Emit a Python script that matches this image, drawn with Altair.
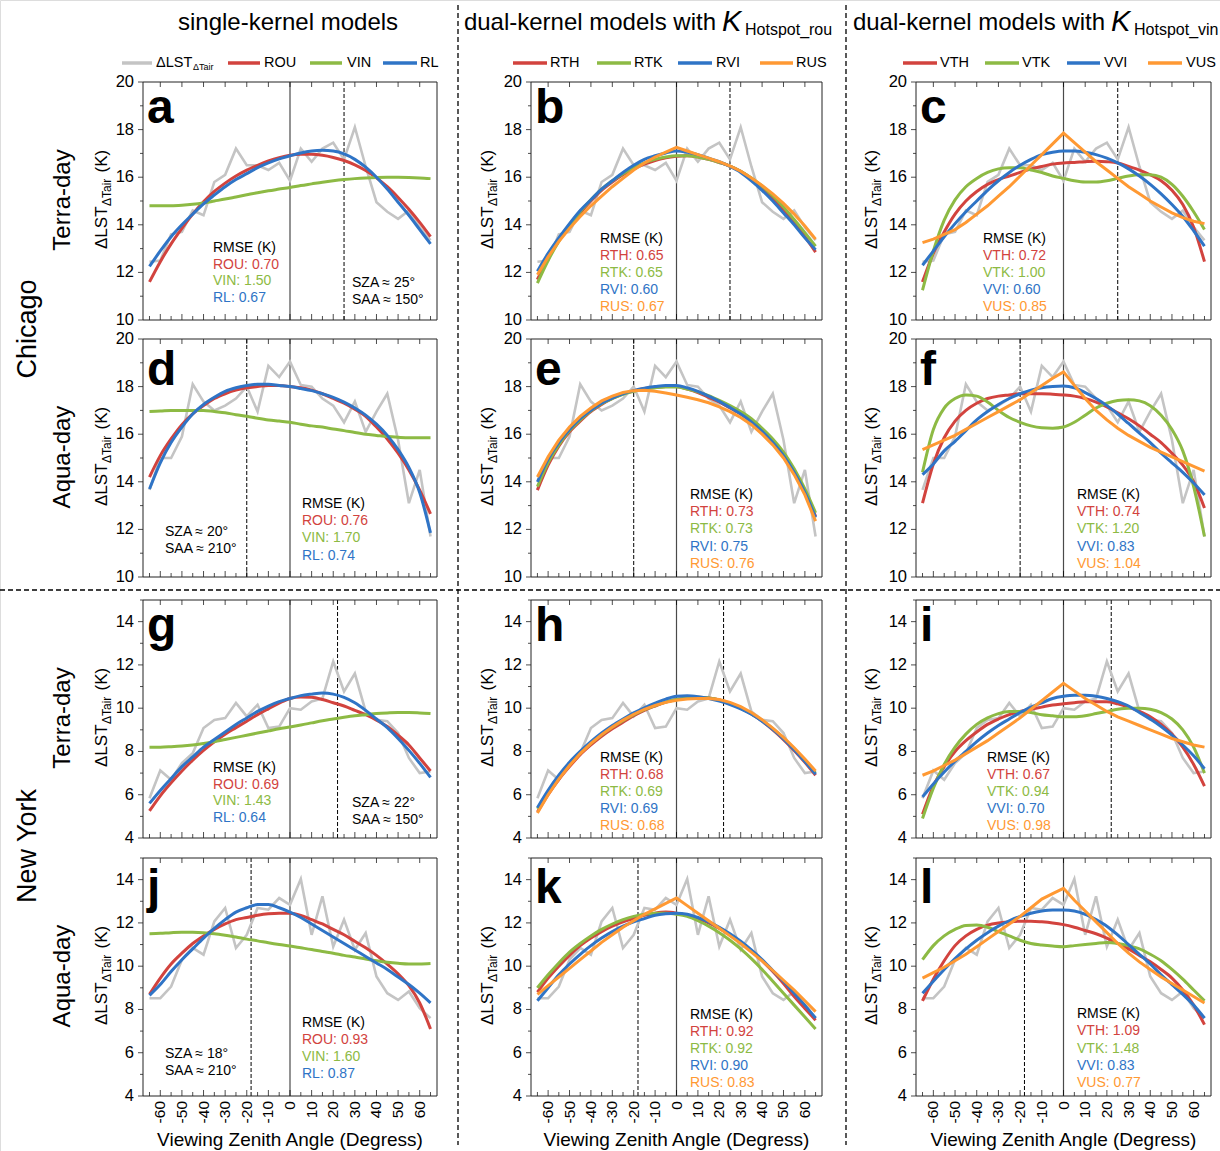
import altair as alt
import pandas as pd

# ------------------------------------------------------------------ data
VZA = list(range(-65, 70, 5))  # viewing zenith angles of the observations / fits

# observed ΔLST_ΔTair (grey lines)
OBS_CHI_TERRA = [12.45, 12.5, 13.6, 13.7, 14.6, 14.4, 15.8, 16.1, 17.2, 16.5, 16.5, 16.3, 16.6, 15.85,
                 17.2, 16.65, 17.2, 17.45, 16.75, 18.1, 16.45, 14.95, 14.55, 14.25, 14.6, 13.9, 13.35]
OBS_CHI_AQUA = [13.66, 15.0, 15.0, 15.9, 18.1, 17.37, 17.0, 17.2, 17.5, 18.0, 16.95, 18.87, 18.4, 19.05,
                18.07, 18.0, 17.5, 17.2, 16.5, 17.37, 16.1, 16.95, 17.7, 15.76, 13.1, 14.5, 11.7]
OBS_NY_TERRA = [5.84, 7.12, 6.69, 7.46, 7.92, 9.08, 9.46, 9.54, 10.24, 9.62, 10.16, 9.08, 9.15, 10.0,
                9.93, 10.31, 10.45, 12.16, 10.77, 11.6, 9.85, 9.46, 9.4, 8.85, 7.7, 7.0, 7.07]
OBS_NY_AQUA = [8.52, 8.52, 9.06, 10.3, 10.84, 10.53, 12.07, 12.69, 10.84, 11.45, 12.69, 12.61, 13.15, 12.84,
               14.03, 11.45, 13.23, 10.91, 12.15, 10.76, 11.53, 9.52, 8.75, 8.44, 8.83, 8.06, 7.6]

# panel a (Chicago Terra, single kernel)
A_ROU = [11.6, 12.45, 13.2, 13.85, 14.45, 14.97, 15.4, 15.75, 16.05, 16.3, 16.5, 16.68, 16.82, 16.92,
         16.96, 16.96, 16.92, 16.83, 16.7, 16.52, 16.28, 15.97, 15.6, 15.15, 14.65, 14.1, 13.5]
A_VIN = [14.8, 14.8, 14.8, 14.82, 14.86, 14.92, 15.0, 15.08, 15.17, 15.26, 15.35, 15.43, 15.5, 15.57,
         15.65, 15.72, 15.79, 15.85, 15.9, 15.94, 15.97, 15.99, 16.0, 16.0, 15.99, 15.97, 15.94]
A_RL = [12.25, 12.9, 13.5, 14.0, 14.45, 14.88, 15.25, 15.6, 15.9, 16.15, 16.4, 16.6, 16.77, 16.9,
        17.02, 17.1, 17.13, 17.1, 16.98, 16.75, 16.42, 16.0, 15.5, 14.95, 14.4, 13.8, 13.2]
# panel b
B_RTH = [11.7, 12.6, 13.35, 13.95, 14.5, 15.0, 15.45, 15.8, 16.1, 16.35, 16.55, 16.7, 16.82, 16.88,
         16.9, 16.85, 16.75, 16.62, 16.47, 16.25, 15.95, 15.6, 15.15, 14.65, 14.1, 13.5, 12.85]
B_RTK = [11.55, 12.5, 13.3, 13.95, 14.55, 15.05, 15.5, 15.85, 16.15, 16.4, 16.6, 16.75, 16.85, 16.9,
         16.9, 16.85, 16.75, 16.62, 16.47, 16.25, 15.97, 15.63, 15.22, 14.75, 14.22, 13.67, 13.1]
B_RVI = [12.05, 12.8, 13.45, 14.05, 14.6, 15.05, 15.5, 15.85, 16.2, 16.5, 16.75, 16.9, 17.02, 17.1,
         17.05, 16.95, 16.8, 16.65, 16.45, 16.2, 15.85, 15.45, 15.0, 14.5, 14.0, 13.45, 12.95]
B_RUS = [11.9, 12.65, 13.3, 13.85, 14.35, 14.8, 15.2, 15.6, 15.95, 16.3, 16.6, 16.85, 17.05, 17.25,
         17.1, 16.95, 16.8, 16.65, 16.47, 16.25, 15.97, 15.65, 15.3, 14.9, 14.45, 13.95, 13.4]
# panel c
C_VTH = [11.6, 12.8, 13.7, 14.45, 15.0, 15.4, 15.7, 15.9, 16.05, 16.2, 16.35, 16.45, 16.55, 16.6,
         16.62, 16.65, 16.67, 16.65, 16.6, 16.45, 16.3, 16.1, 15.85, 15.45, 14.85, 13.9, 12.45]
C_VTK = [11.25, 12.9, 14.2, 15.05, 15.6, 15.95, 16.2, 16.35, 16.4, 16.4, 16.3, 16.2, 16.05, 15.95,
         15.85, 15.8, 15.8, 15.85, 15.95, 16.05, 16.1, 16.1, 16.0, 15.7, 15.2, 14.55, 13.8]
C_VVI = [12.3, 12.9, 13.5, 14.05, 14.55, 15.0, 15.45, 15.85, 16.2, 16.5, 16.75, 16.95, 17.05, 17.1,
         17.1, 17.05, 16.95, 16.8, 16.6, 16.35, 16.05, 15.7, 15.3, 14.85, 14.35, 13.75, 13.1]
C_VUS = [13.25, 13.4, 13.6, 13.8, 14.1, 14.45, 14.8, 15.2, 15.6, 16.05, 16.5, 16.95, 17.4, 17.85,
         17.45, 17.05, 16.65, 16.3, 15.95, 15.6, 15.3, 15.0, 14.75, 14.5, 14.3, 14.15, 14.05]
# panel d (Chicago Aqua)
D_ROU = [14.2, 15.1, 15.8, 16.4, 16.85, 17.2, 17.5, 17.7, 17.85, 17.95, 18.0, 18.05, 18.05, 18.0,
         17.95, 17.85, 17.7, 17.5, 17.3, 17.05, 16.75, 16.3, 15.8, 15.2, 14.5, 13.65, 12.65]
D_VIN = [16.95, 16.97, 17.0, 17.0, 17.0, 17.0, 16.95, 16.9, 16.82, 16.75, 16.67, 16.6, 16.55, 16.5,
         16.42, 16.35, 16.3, 16.22, 16.15, 16.07, 16.0, 15.95, 15.9, 15.87, 15.85, 15.85, 15.85]
D_RL = [13.7, 14.8, 15.65, 16.3, 16.85, 17.25, 17.55, 17.8, 17.95, 18.05, 18.1, 18.1, 18.05, 18.0,
        17.92, 17.83, 17.7, 17.55, 17.35, 17.1, 16.8, 16.42, 15.95, 15.35, 14.6, 13.55, 11.85]
# panel e
E_RTH = [13.65, 14.7, 15.5, 16.1, 16.55, 16.95, 17.25, 17.5, 17.7, 17.82, 17.92, 17.97, 18.0, 18.0,
         17.9, 17.75, 17.55, 17.35, 17.1, 16.85, 16.55, 16.15, 15.7, 15.15, 14.45, 13.6, 12.55]
E_RTK = [13.8, 14.8, 15.55, 16.15, 16.6, 16.98, 17.28, 17.5, 17.68, 17.8, 17.9, 17.95, 17.98, 17.98,
         17.9, 17.78, 17.62, 17.42, 17.2, 16.95, 16.65, 16.25, 15.8, 15.25, 14.55, 13.7, 12.7]
E_RVI = [14.0, 14.95, 15.65, 16.2, 16.65, 17.0, 17.3, 17.52, 17.7, 17.83, 17.93, 18.0, 18.05, 18.05,
         17.95, 17.8, 17.6, 17.38, 17.12, 16.85, 16.52, 16.12, 15.65, 15.1, 14.4, 13.55, 12.5]
E_RUS = [14.2, 15.05, 15.75, 16.3, 16.75, 17.1, 17.4, 17.6, 17.75, 17.83, 17.85, 17.8, 17.73, 17.65,
         17.55, 17.45, 17.32, 17.15, 16.95, 16.7, 16.4, 16.0, 15.55, 15.0, 14.3, 13.45, 12.35]
# panel f
F_VTH = [13.1, 14.75, 15.85, 16.55, 17.0, 17.3, 17.5, 17.6, 17.65, 17.7, 17.7, 17.7, 17.68, 17.65,
         17.6, 17.5, 17.35, 17.15, 16.9, 16.65, 16.35, 16.0, 15.65, 15.2, 14.7, 14.0, 12.9]
F_VTK = [14.4, 16.2, 17.1, 17.5, 17.65, 17.6, 17.35, 17.0, 16.7, 16.5, 16.35, 16.27, 16.25, 16.3,
         16.5, 16.8, 17.1, 17.3, 17.42, 17.45, 17.4, 17.2, 16.8, 16.2, 15.3, 13.8, 11.7]
F_VVI = [14.3, 14.75, 15.3, 15.7, 16.15, 16.6, 16.95, 17.25, 17.5, 17.7, 17.85, 17.95, 18.0, 18.02,
         17.95, 17.75, 17.5, 17.2, 16.85, 16.45, 16.05, 15.65, 15.2, 14.8, 14.4, 13.95, 13.45]
F_VUS = [15.35, 15.55, 15.75, 15.95, 16.2, 16.45, 16.7, 16.95, 17.2, 17.45, 17.75, 18.05, 18.35, 18.62,
         18.05, 17.5, 17.0, 16.6, 16.25, 15.95, 15.7, 15.45, 15.25, 15.05, 14.85, 14.65, 14.45]
# panel g (New York Terra)
G_ROU = [5.25, 5.95, 6.55, 7.1, 7.6, 8.05, 8.45, 8.8, 9.1, 9.4, 9.7, 9.97, 10.23, 10.45,
         10.52, 10.5, 10.4, 10.25, 10.1, 9.9, 9.7, 9.45, 9.15, 8.75, 8.3, 7.7, 7.1]
G_VIN = [8.2, 8.2, 8.22, 8.25, 8.3, 8.37, 8.45, 8.55, 8.65, 8.75, 8.85, 8.95, 9.05, 9.13,
         9.22, 9.32, 9.42, 9.5, 9.58, 9.65, 9.7, 9.75, 9.78, 9.8, 9.8, 9.78, 9.75]
G_RL = [5.6, 6.2, 6.75, 7.3, 7.75, 8.2, 8.55, 8.9, 9.25, 9.55, 9.85, 10.1, 10.3, 10.45,
        10.58, 10.65, 10.7, 10.65, 10.5, 10.25, 9.9, 9.5, 9.1, 8.6, 8.05, 7.45, 6.8]
# panel h
H_RTH = [5.2, 6.0, 6.7, 7.3, 7.85, 8.3, 8.7, 9.05, 9.35, 9.65, 9.9, 10.1, 10.28, 10.4,
         10.47, 10.5, 10.47, 10.38, 10.22, 10.0, 9.73, 9.4, 9.0, 8.55, 8.05, 7.5, 6.9]
H_RTK = [5.35, 6.1, 6.8, 7.4, 7.92, 8.37, 8.77, 9.12, 9.42, 9.7, 9.93, 10.12, 10.28, 10.4,
         10.47, 10.5, 10.47, 10.38, 10.22, 10.0, 9.75, 9.43, 9.05, 8.62, 8.12, 7.58, 7.0]
H_RVI = [5.4, 6.2, 6.9, 7.5, 8.0, 8.45, 8.85, 9.2, 9.5, 9.78, 10.02, 10.23, 10.42, 10.55,
         10.57, 10.53, 10.45, 10.33, 10.17, 9.97, 9.72, 9.4, 9.02, 8.58, 8.08, 7.53, 6.95]
H_RUS = [5.15, 6.0, 6.72, 7.35, 7.9, 8.37, 8.78, 9.13, 9.45, 9.72, 9.95, 10.13, 10.27, 10.37,
         10.42, 10.45, 10.45, 10.4, 10.27, 10.07, 9.8, 9.47, 9.08, 8.65, 8.17, 7.65, 7.1]
# panel i
I_VTH = [5.1, 6.4, 7.3, 8.0, 8.5, 8.9, 9.25, 9.5, 9.7, 9.85, 9.95, 10.05, 10.15, 10.2,
         10.25, 10.3, 10.3, 10.3, 10.2, 10.05, 9.85, 9.6, 9.25, 8.8, 8.2, 7.4, 6.4]
I_VTK = [4.9, 6.3, 7.4, 8.2, 8.8, 9.25, 9.55, 9.75, 9.85, 9.85, 9.8, 9.7, 9.65, 9.6,
         9.6, 9.65, 9.75, 9.85, 9.95, 10.0, 10.0, 9.95, 9.8, 9.5, 9.0, 8.2, 7.0]
I_VVI = [5.9, 6.5, 7.05, 7.55, 8.0, 8.45, 8.85, 9.2, 9.5, 9.8, 10.05, 10.25, 10.45, 10.55,
         10.6, 10.6, 10.55, 10.45, 10.3, 10.1, 9.8, 9.5, 9.15, 8.75, 8.3, 7.8, 7.2]
I_VUS = [6.9, 7.1, 7.35, 7.6, 7.9, 8.2, 8.5, 8.85, 9.2, 9.55, 9.95, 10.35, 10.75, 11.15,
         10.8, 10.45, 10.15, 9.85, 9.6, 9.4, 9.2, 9.0, 8.8, 8.6, 8.45, 8.3, 8.2]
# panel j (New York Aqua)
J_ROU = [8.7, 9.45, 10.1, 10.6, 11.05, 11.4, 11.7, 11.95, 12.15, 12.25, 12.35, 12.42, 12.45, 12.45,
         12.35, 12.15, 11.95, 11.7, 11.45, 11.15, 10.85, 10.5, 10.1, 9.65, 9.1, 8.3, 7.1]
J_VIN = [11.5, 11.52, 11.55, 11.57, 11.57, 11.55, 11.5, 11.43, 11.35, 11.25, 11.17, 11.08, 11.0, 10.93,
         10.85, 10.77, 10.68, 10.6, 10.5, 10.42, 10.33, 10.25, 10.18, 10.13, 10.1, 10.1, 10.12]
J_RL = [8.65, 9.15, 9.75, 10.3, 10.8, 11.3, 11.75, 12.15, 12.5, 12.7, 12.85, 12.85, 12.7, 12.5,
        12.25, 11.95, 11.65, 11.35, 11.05, 10.75, 10.45, 10.15, 9.85, 9.5, 9.15, 8.75, 8.3]
# panel k
K_RTH = [8.8, 9.45, 10.0, 10.5, 10.95, 11.3, 11.6, 11.85, 12.05, 12.2, 12.35, 12.45, 12.5, 12.45,
         12.35, 12.2, 12.0, 11.75, 11.45, 11.1, 10.7, 10.25, 9.75, 9.2, 8.6, 8.05, 7.5]
K_RTK = [9.0, 9.6, 10.15, 10.65, 11.05, 11.4, 11.7, 11.95, 12.15, 12.3, 12.4, 12.45, 12.45, 12.4,
         12.3, 12.1, 11.85, 11.55, 11.2, 10.8, 10.35, 9.85, 9.3, 8.75, 8.2, 7.65, 7.1]
K_RVI = [8.4, 9.0, 9.6, 10.1, 10.55, 10.95, 11.3, 11.6, 11.85, 12.05, 12.2, 12.35, 12.42, 12.45,
         12.4, 12.25, 12.05, 11.8, 11.5, 11.15, 10.75, 10.3, 9.8, 9.3, 8.75, 8.2, 7.6]
K_RUS = [8.7, 9.1, 9.5, 9.9, 10.3, 10.7, 11.1, 11.45, 11.8, 12.1, 12.4, 12.65, 12.9, 13.15,
         12.8, 12.45, 12.1, 11.75, 11.4, 11.05, 10.65, 10.25, 9.8, 9.35, 8.9, 8.4, 7.9]
# panel l
L_VTH = [8.4, 9.4, 10.25, 10.95, 11.4, 11.7, 11.9, 12.0, 12.05, 12.08, 12.08, 12.05, 12.0, 11.92,
         11.8, 11.65, 11.5, 11.3, 11.05, 10.8, 10.5, 10.2, 9.85, 9.45, 8.9, 8.2, 7.3]
L_VTK = [10.3, 10.95, 11.4, 11.7, 11.88, 11.9, 11.8, 11.6, 11.4, 11.2, 11.05, 10.98, 10.93, 10.9,
         10.95, 11.0, 11.05, 11.1, 11.05, 10.95, 10.8, 10.55, 10.25, 9.85, 9.4, 8.9, 8.4]
L_VVI = [8.75, 9.3, 9.85, 10.35, 10.8, 11.2, 11.55, 11.85, 12.1, 12.3, 12.45, 12.55, 12.6, 12.6,
         12.55, 12.4, 12.15, 11.85, 11.45, 11.0, 10.55, 10.1, 9.6, 9.15, 8.7, 8.2, 7.6]
L_VUS = [9.45, 9.7, 9.95, 10.25, 10.55, 10.9, 11.25, 11.6, 11.95, 12.3, 12.7, 13.1, 13.35, 13.6,
         13.05, 12.55, 12.05, 11.55, 11.05, 10.6, 10.2, 9.85, 9.5, 9.2, 8.9, 8.6, 8.3]

NAMES_SINGLE = ["ROU", "VIN", "RL"]
NAMES_ROU = ["RTH", "RTK", "RVI", "RUS"]
NAMES_VIN = ["VTH", "VTK", "VVI", "VUS"]

RMSE_A = [0.70, 1.50, 0.67]
RMSE_B = [0.65, 0.65, 0.60, 0.67]
RMSE_C = [0.72, 1.00, 0.60, 0.85]
RMSE_D = [0.76, 1.70, 0.74]
RMSE_E = [0.73, 0.73, 0.75, 0.76]
RMSE_F = [0.74, 1.20, 0.83, 1.04]
RMSE_G = [0.69, 1.43, 0.64]
RMSE_H = [0.68, 0.69, 0.69, 0.68]
RMSE_I = [0.67, 0.94, 0.70, 0.98]
RMSE_J = [0.93, 1.60, 0.87]
RMSE_K = [0.92, 0.92, 0.90, 0.83]
RMSE_L = [1.09, 1.48, 0.83, 0.77]

SZA = [25, 20, 22, 18]
SAA = [150, 210, 150, 210]
SZA_LINE = [25, -20, 22, -18]      # dashed line position (VZA) per row

SITES = ["Chicago", "New York"]
PASSES = ["Terra-day", "Aqua-day", "Terra-day", "Aqua-day"]
COL_TITLE_1 = "single-kernel models"
COL_TITLE_2 = "dual-kernel models with"
HOTSPOT = ["Hotspot_rou", "Hotspot_vin"]
X_TITLE = "Viewing Zenith Angle (Degress)"
LETTERS = list("abcdefghijkl")

X_DOMAIN = [-68, 68]
X_LABELS = list(range(-60, 61, 10))
X_MINOR = list(range(-65, 66, 10))
Y_DOMAIN_CHI = [10, 20]
Y_DOMAIN_NY = [4, 15]
Y_MAJOR_CHI = [10, 12, 14, 16, 18, 20]
Y_MINOR_CHI = [11, 13, 15, 17, 19]
Y_MAJOR_NY = [4, 6, 8, 10, 12, 14]
Y_MINOR_NY = [5, 7, 9, 11, 13, 15]

GRID_SERIES = [
    [(NAMES_SINGLE, [A_ROU, A_VIN, A_RL], RMSE_A),
     (NAMES_ROU, [B_RTH, B_RTK, B_RVI, B_RUS], RMSE_B),
     (NAMES_VIN, [C_VTH, C_VTK, C_VVI, C_VUS], RMSE_C)],
    [(NAMES_SINGLE, [D_ROU, D_VIN, D_RL], RMSE_D),
     (NAMES_ROU, [E_RTH, E_RTK, E_RVI, E_RUS], RMSE_E),
     (NAMES_VIN, [F_VTH, F_VTK, F_VVI, F_VUS], RMSE_F)],
    [(NAMES_SINGLE, [G_ROU, G_VIN, G_RL], RMSE_G),
     (NAMES_ROU, [H_RTH, H_RTK, H_RVI, H_RUS], RMSE_H),
     (NAMES_VIN, [I_VTH, I_VTK, I_VVI, I_VUS], RMSE_I)],
    [(NAMES_SINGLE, [J_ROU, J_VIN, J_RL], RMSE_J),
     (NAMES_ROU, [K_RTH, K_RTK, K_RVI, K_RUS], RMSE_K),
     (NAMES_VIN, [L_VTH, L_VTK, L_VVI, L_VUS], RMSE_L)],
]
OBS_ROWS = [OBS_CHI_TERRA, OBS_CHI_AQUA, OBS_NY_TERRA, OBS_NY_AQUA]

# ------------------------------------------------------------------ style / layout
FONT = "Liberation Sans"
RED, GREEN, BLUE, ORANGE, GREY = "#D2433E", "#8DBA44", "#2F74C6", "#FF9933", "#C4C4C4"
MODEL_COLORS = [RED, GREEN, BLUE, ORANGE]
W, H = 1220, 1151
COL_X = [(143, 437), (531, 822), (916, 1211)]
ROW_Y = [(82, 320), (339, 577), (600, 838), (858, 1096)]
LETTER_BASE = [123, 385, 641, 903]
RMSE_XY = [[(213, 248, 16.7), (600, 239, 16.9), (983, 239, 16.9)],
           [(302, 504, 17.2), (690, 495, 17.2), (1077, 495, 17.2)],
           [(213, 768, 16.6), (600, 758, 17.0), (987, 758, 17.0)],
           [(302, 1023, 17.0), (690, 1015, 17.0), (1077, 1014, 17.3)]]
SZA_XY = [(352, 283), (165, 532), (352, 803), (165, 1054)]
YTITLE_X = [107, 493, 877]

DUMMY = pd.DataFrame({"d": [0]})


def txt(s, x, y, size=14, color="black", align="left", baseline="middle",
        angle=0, weight="normal", style="normal"):
    return alt.Chart(DUMMY).mark_text(
        text=s, font=FONT, fontSize=size, color=color, align=align,
        baseline=baseline, angle=angle, fontWeight=weight, fontStyle=style
    ).encode(x=alt.value(x), y=alt.value(y))


def hline(xa, xb, y, color, width=3.5, dash=None):
    kw = dict(color=color, strokeWidth=width)
    if dash:
        kw["strokeDash"] = dash
    return alt.Chart(DUMMY).mark_rule(**kw).encode(
        x=alt.value(xa), x2=alt.value(xb), y=alt.value(y))


def vline(x, ya, yb, color="black", width=1.3, dash=None):
    kw = dict(color=color, strokeWidth=width)
    if dash:
        kw["strokeDash"] = dash
    return alt.Chart(DUMMY).mark_rule(**kw).encode(
        x=alt.value(x), y=alt.value(ya), y2=alt.value(yb))


def panel(c, r):
    names, series, _ = GRID_SERIES[r][c]
    obs = OBS_ROWS[r]
    x0, x1 = COL_X[c]
    y0, y1 = ROW_Y[r]
    chi = r < 2
    ydom = Y_DOMAIN_CHI if chi else Y_DOMAIN_NY
    ymaj = Y_MAJOR_CHI if chi else Y_MAJOR_NY
    ymin = Y_MINOR_CHI if chi else Y_MINOR_NY
    xs = alt.Scale(domain=X_DOMAIN, range=[x0, x1], nice=False, zero=False)
    ys = alt.Scale(domain=ydom, range=[y1, y0], nice=False, zero=False)

    def XD(v):
        return alt.XDatum(v, scale=xs, axis=None)

    def YD(v):
        return alt.YDatum(v, scale=ys, axis=None)

    def XF(f):
        return alt.X(f, scale=xs, axis=None)

    def YF(f):
        return alt.Y(f, scale=ys, axis=None)

    df = pd.DataFrame({"vza": VZA, "obs": obs})
    for n, s in zip(names, series):
        df[n] = s

    L = []
    # reference lines: nadir (solid) and solar zenith (dashed)
    L.append(alt.Chart(DUMMY).mark_rule(color="#4a4a4a", strokeWidth=1.2).encode(
        x=XD(0), y=YD(ydom[0]), y2=alt.Y2Datum(ydom[1])))
    L.append(alt.Chart(DUMMY).mark_rule(color="black", strokeWidth=1, strokeDash=[4, 2]).encode(
        x=XD(SZA_LINE[r]), y=YD(ydom[0]), y2=alt.Y2Datum(ydom[1])))
    # observations
    base = alt.Chart(df)
    L.append(base.mark_line(color=GREY, strokeWidth=2.6).encode(x=XF("vza:Q"), y=YF("obs:Q")))
    # model fits
    for n, col in zip(names, MODEL_COLORS):
        interp = "linear" if n.endswith("US") else "monotone"
        L.append(base.mark_line(color=col, strokeWidth=3, interpolate=interp).encode(
            x=XF("vza:Q"), y=YF(f"{n}:Q")))
    # inward x ticks on bottom (major + minor) and top (major)
    tmaj = alt.Chart(pd.DataFrame({"t": X_LABELS, "lab": [str(v) for v in X_LABELS]}))
    tmin = alt.Chart(pd.DataFrame({"t": X_MINOR}))
    L.append(tmaj.mark_tick(orient="vertical", size=6, thickness=1, yOffset=-3, color="black").encode(
        x=XF("t:Q"), y=YD(ydom[0])))
    L.append(tmin.mark_tick(orient="vertical", size=4, thickness=1, yOffset=-2, color="black").encode(
        x=XF("t:Q"), y=YD(ydom[0])))
    L.append(tmaj.mark_tick(orient="vertical", size=5, thickness=1, yOffset=2.5, color="black").encode(
        x=XF("t:Q"), y=YD(ydom[1])))
    # y ticks (outward) and labels
    ymj = alt.Chart(pd.DataFrame({"v": ymaj, "lab": [str(v) for v in ymaj]}))
    L.append(ymj.mark_tick(orient="horizontal", size=5, thickness=1, xOffset=-2.5, color="black").encode(
        x=XD(X_DOMAIN[0]), y=YF("v:Q")))
    L.append(alt.Chart(pd.DataFrame({"v": ymin})).mark_tick(
        orient="horizontal", size=3, thickness=1, xOffset=-1.5, color="black").encode(
        x=XD(X_DOMAIN[0]), y=YF("v:Q")))
    L.append(ymj.mark_text(align="right", baseline="middle", xOffset=-9, fontSize=16.5,
                           font=FONT, color="black").encode(
        x=XD(X_DOMAIN[0]), y=YF("v:Q"), text=alt.Text("lab:N")))
    # x labels + title on bottom row
    if r == 3:
        L.append(tmaj.mark_text(angle=270, align="right", baseline="middle", yOffset=5,
                                fontSize=15.5, font=FONT, color="black").encode(
            x=XF("t:Q"), y=YD(ydom[0]), text=alt.Text("lab:N")))
        L.append(alt.Chart(DUMMY).mark_text(text=X_TITLE, align="center", baseline="alphabetic",
                                            yOffset=50, fontSize=19, font=FONT, color="black").encode(
            x=XD(0), y=YD(ydom[0])))
    # frame
    L.append(alt.Chart(DUMMY).mark_rect(fillOpacity=0, stroke="#222222", strokeWidth=1).encode(
        x=XD(X_DOMAIN[0]), x2=alt.X2Datum(X_DOMAIN[1]),
        y=YD(ydom[0]), y2=alt.Y2Datum(ydom[1])))
    return alt.layer(*L)


layers = []
for r in range(4):
    for c in range(3):
        layers.append(panel(c, r))

deco = []
# panel texts
for r in range(4):
    yc = (ROW_Y[r][0] + ROW_Y[r][1]) / 2 + 1
    for c in range(3):
        names, _, rmse = GRID_SERIES[r][c]
        x0 = COL_X[c][0]
        deco.append(txt(LETTERS[r * 3 + c], x0 + 4, LETTER_BASE[r], size=48,
                        weight="bold", baseline="alphabetic"))
        rx, ry, st = RMSE_XY[r][c]
        deco.append(txt("RMSE (K)", rx, ry, size=14))
        for i, (n, v) in enumerate(zip(names, rmse)):
            deco.append(txt(f"{n}: {v:.2f}", rx, ry + st * (i + 1), size=14, color=MODEL_COLORS[i]))
        # y-axis title ΔLST_ΔTair (K)
        bx = YTITLE_X[c]
        s = yc + 47
        deco.append(txt("ΔLST", bx, s, size=17, align="left", baseline="alphabetic", angle=270))
        deco.append(txt("ΔTair", bx + 4, s - 43, size=12, align="left", baseline="alphabetic", angle=270))
        deco.append(txt("(K)", bx, s - 43 - 29 - 4.5, size=17, align="left", baseline="alphabetic", angle=270))
    sx, sy = SZA_XY[r]
    deco.append(txt(f"SZA ≈ {SZA[r]}°", sx, sy, size=14))
    deco.append(txt(f"SAA ≈ {SAA[r]}°", sx, sy + 17, size=14))
    deco.append(txt(PASSES[r], 70, yc - 2, size=24, align="center", baseline="alphabetic", angle=270))

deco.append(txt(SITES[0], 36, 329, size=27, align="center", baseline="alphabetic", angle=270))
deco.append(txt(SITES[1], 36, 846, size=27, align="center", baseline="alphabetic", angle=270))

# column titles
deco.append(txt(COL_TITLE_1, 288, 30, size=24, align="center", baseline="alphabetic"))
for xr, xk, xs_, hs in [(716, 722, 745, HOTSPOT[0]), (1105, 1111, 1134, HOTSPOT[1])]:
    deco.append(txt(COL_TITLE_2, xr, 30, size=24, align="right", baseline="alphabetic"))
    deco.append(txt("K", xk, 31, size=29, align="left", baseline="alphabetic", style="italic"))
    deco.append(txt(hs, xs_, 35, size=16, align="left", baseline="alphabetic"))

# legends
LEG_Y = 63
deco.append(hline(122, 152, LEG_Y, GREY))
deco.append(txt("ΔLST", 156, LEG_Y, size=14.5))
deco.append(txt("ΔTair", 193, LEG_Y + 4, size=9))
leg_cols = [
    (NAMES_SINGLE, [(228, 260, 264), (310, 342, 347), (383, 417, 420)]),
    (NAMES_ROU, [(513, 547, 550), (597, 631, 634), (678, 712, 716), (760, 793, 796)]),
    (NAMES_VIN, [(903, 937, 940), (985, 1019, 1022), (1067, 1100, 1104), (1148, 1182, 1186)]),
]
for names, pos in leg_cols:
    for i, (n, (xa, xb, xt)) in enumerate(zip(names, pos)):
        deco.append(hline(xa, xb, LEG_Y, MODEL_COLORS[i]))
        deco.append(txt(n, xt, LEG_Y, size=14.5))

# dashed separators
deco.append(vline(458, 5, 1145, dash=[5, 3]))
deco.append(vline(846, 5, 1145, dash=[5, 3]))
deco.append(hline(0, 1220, 590, "black", width=1.3, dash=[5, 3]))

chart = alt.layer(*layers, *deco).resolve_scale(
    x="independent", y="independent"
).properties(
    width=W, height=H, autosize=alt.AutoSizeParams(type="none"), padding=0
).configure_view(strokeWidth=0).configure(background="white")

chart.save("out.html", embed_options={"renderer": "svg", "actions": False})
